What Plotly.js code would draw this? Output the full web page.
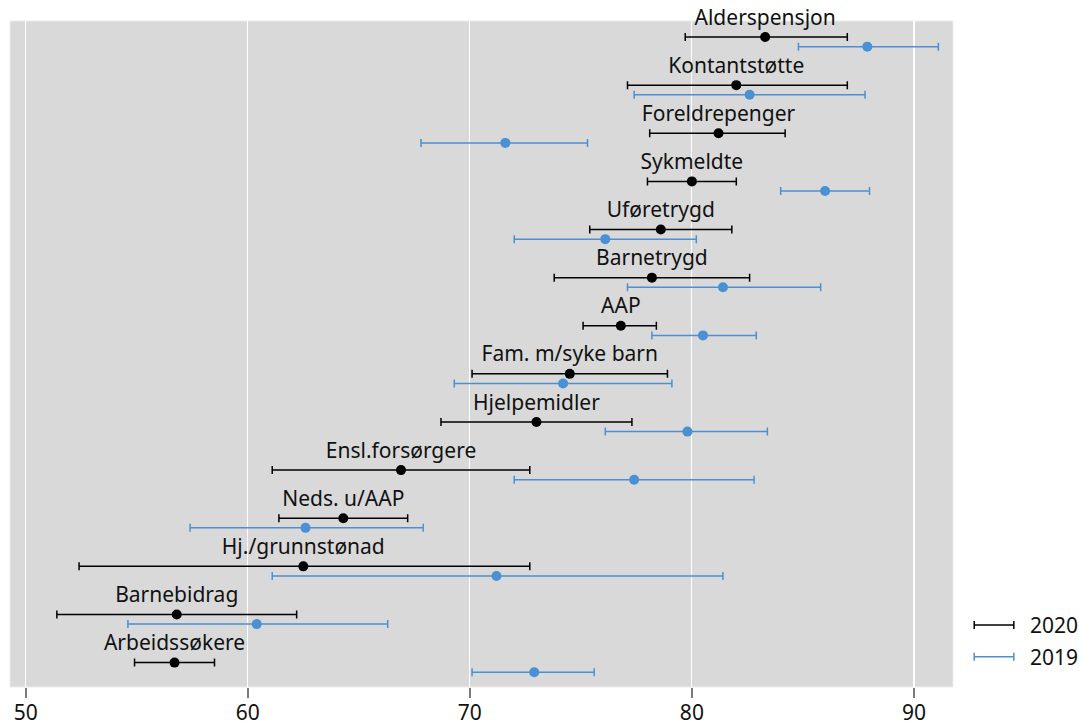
<!DOCTYPE html>
<html>
<head>
<meta charset="utf-8">
<script src="https://cdn.plot.ly/plotly-3.0.1.min.js"></script>
<style>
  html, body { margin: 0; padding: 0; background: #fff; }
  #chart { width: 1079px; height: 722px; }
</style>
</head>
<body>
<div id="chart"></div>
<script>
// Benefit groups, listed top to bottom
const categories = ['Alderspensjon', 'Kontantstøtte', 'Foreldrepenger', 'Sykmeldte', 'Uføretrygd',
  'Barnetrygd', 'AAP', 'Fam. m/syke barn', 'Hjelpemidler', 'Ensl.forsørgere', 'Neds. u/AAP',
  'Hj./grunnstønad', 'Barnebidrag', 'Arbeidssøkere'];

// 2020: estimate with lower / upper interval bounds
const est2020 = [83.3, 82.0, 81.2, 80.0, 78.6, 78.2, 76.8, 74.5, 73.0, 66.9, 64.3, 62.5, 56.8, 56.7];
const lo2020  = [79.7, 77.1, 78.1, 78.0, 75.4, 73.8, 75.1, 70.1, 68.7, 61.1, 61.4, 52.4, 51.4, 54.9];
const hi2020  = [87.0, 87.0, 84.2, 82.0, 81.8, 82.6, 78.4, 78.9, 77.3, 72.7, 67.2, 72.7, 62.2, 58.5];

// 2019: estimate with lower / upper interval bounds
const est2019 = [87.9, 82.6, 71.6, 86.0, 76.1, 81.4, 80.5, 74.2, 79.8, 77.4, 62.6, 71.2, 60.4, 72.9];
const lo2019  = [84.8, 77.4, 67.8, 84.0, 72.0, 77.1, 78.2, 69.3, 76.1, 72.0, 57.4, 61.1, 54.6, 70.1];
const hi2019  = [91.1, 87.8, 75.3, 88.0, 80.2, 85.8, 82.9, 79.1, 83.4, 82.8, 67.9, 81.4, 66.3, 75.6];

const years = ['2020', '2019'];
const COLORS = { '2020': '#000000', '2019': '#4a90d2' };
const FONT = 'Noto Sans, Open Sans, sans-serif';
const FS = 21;

const n = categories.length;
const rowPos = categories.map((_, i) => n - 1 - i);   // top row gets the highest value
const DODGE = 0.2;                                      // 2019 sits just below 2020

function errorSpec(est, lo, hi, color) {
  return {
    type: 'data', symmetric: false,
    array: est.map((v, i) => hi[i] - v),
    arrayminus: est.map((v, i) => v - lo[i]),
    color: color, thickness: 1.5, width: 4
  };
}

const trace2019 = {
  type: 'scatter', mode: 'markers', name: '2019', showlegend: false,
  x: est2019, y: rowPos.map(p => p - DODGE),
  marker: { color: COLORS['2019'], size: 10 },
  error_x: errorSpec(est2019, lo2019, hi2019, COLORS['2019']),
  hoverinfo: 'x'
};

const trace2020 = {
  type: 'scatter', mode: 'markers+text', name: '2020', showlegend: false,
  x: est2020, y: rowPos,
  text: categories, textposition: 'top center',
  textfont: { family: FONT, size: FS, color: '#111' },
  marker: { color: COLORS['2020'], size: 10 },
  error_x: errorSpec(est2020, lo2020, hi2020, COLORS['2020']),
  cliponaxis: false,
  hoverinfo: 'x+text'
};

// Hand-drawn legend: an interval glyph (bar with end caps) and the year
const legendShapes = [
  // faint frame around the plotting area
  { type: 'rect', xref: 'paper', yref: 'paper', x0: 0, x1: 1, y0: 0, y1: 1,
    line: { color: '#ececec', width: 1 }, layer: 'below' }
];
const legendNotes = [];
years.forEach((yr, k) => {
  const yy = 0.093 - k * 0.0475;
  const c = COLORS[yr];
  legendShapes.push(
    { type: 'line', xref: 'paper', yref: 'paper', x0: 1.0225, x1: 1.0645, y0: yy, y1: yy,
      line: { color: c, width: 1.5 } },
    { type: 'line', xref: 'paper', yref: 'paper', xsizemode: 'scaled', ysizemode: 'pixel',
      yanchor: yy, x0: 1.0225, x1: 1.0225, y0: -4, y1: 4, line: { color: c, width: 1.5 } },
    { type: 'line', xref: 'paper', yref: 'paper', xsizemode: 'scaled', ysizemode: 'pixel',
      yanchor: yy, x0: 1.0645, x1: 1.0645, y0: -4, y1: 4, line: { color: c, width: 1.5 } }
  );
  legendNotes.push({
    xref: 'paper', yref: 'paper', x: 1.0795, y: yy, xanchor: 'left', yanchor: 'middle',
    text: yr, showarrow: false, font: { family: FONT, size: FS, color: '#111' }
  });
});

const layout = {
  width: 1079, height: 722,
  margin: { l: 10, r: 126, t: 21, b: 35, pad: 0 },
  paper_bgcolor: '#ffffff',
  plot_bgcolor: '#d9d9d9',
  font: { family: FONT, size: FS, color: '#111' },
  showlegend: false,
  xaxis: {
    range: [49.29, 91.76],
    tickvals: [50, 60, 70, 80, 90],
    ticks: 'outside', ticklen: 10, tickwidth: 2, tickcolor: '#7a7a7a',
    tickfont: { family: FONT, size: FS, color: '#111' },
    ticklabelstandoff: -3,
    showgrid: true, gridcolor: '#ffffff', gridwidth: 1.2,
    zeroline: false, showline: false
  },
  yaxis: {
    range: [-0.507, 13.333],
    showticklabels: false, ticks: '', showgrid: false, zeroline: false, showline: false
  },
  shapes: legendShapes,
  annotations: legendNotes
};

Plotly.newPlot('chart', [trace2019, trace2020], layout, { displayModeBar: false, staticPlot: true });
</script>
</body>
</html>
